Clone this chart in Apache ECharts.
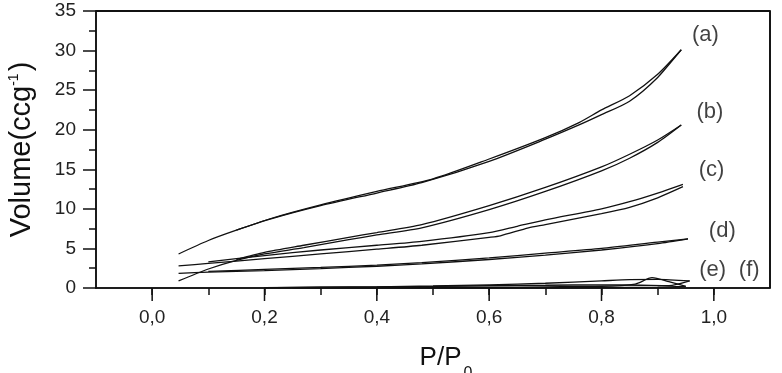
<!DOCTYPE html>
<html>
<head>
<meta charset="utf-8">
<script src="https://cdn.jsdelivr.net/npm/echarts@6/dist/echarts.min.js"></script>
<style>html,body{margin:0;padding:0;background:#fff}#c{width:782px;height:373px}</style>
</head>
<body>
<div id="c"></div>
<script>
// ---- data (P/P0, Volume) ----
const aAds = [[0.047,4.3],[0.1,6.0],[0.15,7.3],[0.21,8.7],[0.3,10.4],[0.4,12.0],[0.48,13.3],[0.6,16.0],[0.7,18.8],[0.76,20.6],[0.8,21.9],[0.85,23.6],[0.9,26.6],[0.942,30.1]];
const aDes = [[0.15,7.3],[0.21,8.75],[0.3,10.5],[0.4,12.2],[0.5,13.8],[0.6,16.3],[0.7,19.0],[0.76,20.9],[0.8,22.5],[0.85,24.3],[0.9,27.0],[0.942,30.1]];
const bAds = [[0.047,0.9],[0.1,2.4],[0.15,3.5],[0.2,4.3],[0.27,5.1],[0.35,6.1],[0.4,6.7],[0.48,7.6],[0.6,9.9],[0.7,12.2],[0.8,14.8],[0.85,16.4],[0.9,18.4],[0.942,20.6]];
const bDes = [[0.15,3.6],[0.2,4.5],[0.27,5.4],[0.35,6.4],[0.4,7.0],[0.48,8.0],[0.6,10.4],[0.7,12.7],[0.8,15.3],[0.85,16.9],[0.9,18.7],[0.942,20.6]];
const cAds = [[0.047,2.8],[0.1,3.1],[0.2,3.7],[0.3,4.3],[0.4,4.9],[0.48,5.4],[0.6,6.4],[0.62,6.6],[0.67,7.6],[0.7,8.0],[0.8,9.4],[0.85,10.2],[0.9,11.4],[0.945,12.8]];
const cDes = [[0.1,3.3],[0.2,4.1],[0.3,4.8],[0.4,5.4],[0.48,5.9],[0.6,7.0],[0.65,7.8],[0.7,8.6],[0.8,10.0],[0.85,10.9],[0.9,12.0],[0.945,13.1]];
const dAds = [[0.047,1.85],[0.1,2.0],[0.2,2.2],[0.3,2.45],[0.4,2.75],[0.48,3.05],[0.6,3.6],[0.7,4.15],[0.8,4.8],[0.9,5.6],[0.954,6.2]];
const dDes = [[0.1,2.1],[0.2,2.35],[0.3,2.6],[0.4,2.9],[0.48,3.2],[0.6,3.8],[0.7,4.4],[0.8,5.0],[0.9,5.8],[0.954,6.2]];
const eAds = [[0.2,0.05],[0.3,0.1],[0.4,0.15],[0.5,0.2],[0.6,0.3],[0.7,0.35],[0.8,0.4],[0.87,0.35],[0.92,0.3],[0.957,0.9]];
const eDes = [[0.22,0.05],[0.3,0.1],[0.4,0.15],[0.5,0.25],[0.6,0.4],[0.7,0.6],[0.8,0.9],[0.85,1.05],[0.9,1.1],[0.957,0.9]];
const fAds = [[0.2,0.0],[0.3,0.05],[0.4,0.05],[0.5,0.1],[0.6,0.1],[0.7,0.15],[0.8,0.2],[0.86,0.5],[0.89,1.3],[0.92,0.8],[0.95,0.2]];
const fDes = [[0.25,0.0],[0.4,0.0],[0.6,0.0],[0.8,0.05],[0.9,0.1],[0.95,0.2]];

const curveLabels = ['(a)','(b)','(c)','(d)','(e)','(f)'];
const curveLabelX = [0.985, 0.993, 0.996, 1.015, 0.998, 1.063];
const curveLabelY = [32.0, 22.2, 14.9, 7.2, 2.3, 2.3];

const xMajorTicks = [0, 0.2, 0.4, 0.6, 0.8, 1.0];
const X_MIN = -0.1, X_MAX = 1.1, Y_MIN = 0, Y_MAX = 35;

const FONT = 'Liberation Sans, Arial, Helvetica, sans-serif';
const INK = '#111';

const branches = [aAds, aDes, bAds, bDes, cAds, cDes, dAds, dDes, eAds, eDes, fAds, fDes];

const series = branches.map(d => ({
  type: 'line',
  data: d,
  showSymbol: false,
  smooth: 0.25,
  lineStyle: { color: INK, width: 1.3 },
  z: 3
}));

// top and right frame, as a plain polyline through the axis scales
series.push({
  type: 'line',
  data: [[X_MIN, Y_MAX], [X_MAX, Y_MAX], [X_MAX, Y_MIN]],
  showSymbol: false,
  clip: false,
  lineStyle: { color: INK, width: 1.8 },
  z: 6
});

series.push({
  type: 'scatter',
  symbolSize: 0,
  data: curveLabels.map((t, i) => ({ value: [curveLabelX[i], curveLabelY[i]], name: t })),
  label: {
    show: true, position: 'inside', formatter: p => p.name,
    fontFamily: FONT, fontSize: 22, color: INK
  },
  z: 5
});

// longer major ticks on the bottom axis, placed through the axis scale
series.push({
  type: 'custom', z: 4, clip: false,
  data: xMajorTicks.map(v => [v, Y_MIN]),
  renderItem: (params, api) => {
    const p = api.coord([api.value(0), api.value(1)]);
    return { type: 'line', shape: { x1: p[0], y1: p[1], x2: p[0], y2: p[1] + 13 },
      style: { stroke: INK, lineWidth: 1.5 } };
  }
});

const chart = echarts.init(document.getElementById('c'));
chart.setOption({
  animation: false,
  grid: { left: 96, right: 12, top: 11, bottom: 85, outerBoundsMode: 'none',
    show: true, borderColor: INK, borderWidth: 1.5 },
  xAxis: {
    type: 'value', min: X_MIN, max: X_MAX, interval: 0.1,
    axisLine: { show: true, onZero: false, lineStyle: { color: INK, width: 1.6 } },
    axisTick: { show: true, length: 7, lineStyle: { color: INK, width: 1.5 } },
    axisLabel: { show: true, margin: 20, fontFamily: FONT, fontSize: 19, color: '#222',
      showMinLabel: false, showMaxLabel: false,
      formatter: v => {
        const r = Math.round(v * 10);
        return (r % 2 === 0 && r >= 0 && r <= 10) ? (r / 10).toFixed(1).replace('.', ',') : '';
      } },
    splitLine: { show: false },
    name: 'P/P{sub|0}', nameLocation: 'middle', nameGap: 46,
    nameTextStyle: { fontFamily: FONT, fontSize: 26, color: INK, padding: [0, 0, 0, 26],
      rich: { sub: { fontFamily: FONT, fontSize: 16, color: INK, padding: [32, 0, 0, 2] } } }
  },
  yAxis: {
    type: 'value', min: Y_MIN, max: Y_MAX, interval: 5,
    axisLine: { show: true, onZero: false, lineStyle: { color: INK, width: 1.6 } },
    axisTick: { show: true, length: 13, lineStyle: { color: INK, width: 1.5 } },
    minorTick: { show: true, splitNumber: 2, length: 7, lineStyle: { color: INK, width: 1.5 } },
    axisLabel: { show: true, margin: 20, fontFamily: FONT, fontSize: 19, color: '#222' },
    splitLine: { show: false },
    minorSplitLine: { show: false },
    name: 'Volume(ccg{sup|-1})', nameLocation: 'middle', nameGap: 60,
    nameTextStyle: { fontFamily: FONT, fontSize: 29, color: INK,
      rich: { sup: { fontFamily: FONT, fontSize: 14, color: INK, padding: [0, 2, 14, 0] } } }
  },
  series: series
});
</script>
</body>
</html>
